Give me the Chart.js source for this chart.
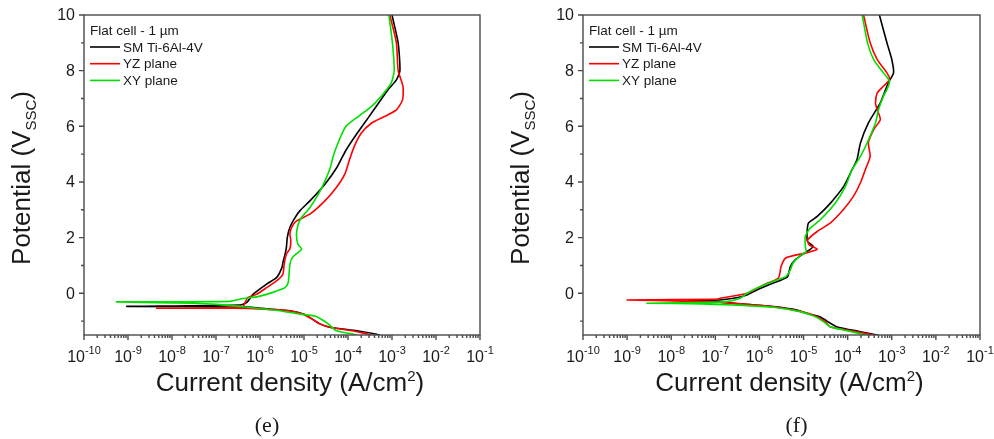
<!DOCTYPE html>
<html>
<head>
<meta charset="utf-8">
<script src="https://cdn.jsdelivr.net/npm/chart.js@4"></script>
<style>
  body { margin: 0; background: #fff; width: 994px; height: 439px; overflow: hidden; position: relative; }
  canvas { position: absolute; top: 0; }
  #chartE { left: 0; }
  #chartF { left: 497px; }
</style>
</head>
<body>
<canvas id="chartE" width="497" height="439"></canvas>
<canvas id="chartF" width="497" height="439"></canvas>
<script>
// axis ticks
const xExponents = [-10, -9, -8, -7, -6, -5, -4, -3, -2, -1];
const yMajorTicks = [0, 2, 4, 6, 8, 10];
const yMinorTicks = [-1, 1, 3, 5, 7, 9];
const seriesNames = ['SM Ti-6Al-4V', 'YZ plane', 'XY plane'];
const legendTitle = 'Flat cell - 1 µm';

// panel (e): potential (V) and log10 of current density (A/cm2)
const eSmE = [-1.51, -1.47, -1.35, -1.22, -1.1, -0.92, -0.75, -0.63, -0.56, -0.5, -0.47, -0.42, -0.33, -0.04, 0.33, 0.57, 0.93, 1.17, 1.4, 1.65, 2.0, 2.37, 2.73, 2.97, 3.33, 3.93, 4.53, 5.13, 5.73, 6.33, 6.71, 7.31, 7.67, 8.0, 9.0, 10];
const eSmLogJ = [-3.27, -3.35, -3.8, -4.41, -4.64, -4.82, -5.0, -5.32, -5.85, -6.3, -9.03, -6.45, -6.3, -6.16, -5.85, -5.62, -5.5, -5.47, -5.43, -5.4, -5.38, -5.32, -5.2, -5.09, -4.86, -4.52, -4.25, -4.05, -3.8, -3.53, -3.36, -3.09, -2.9, -2.82, -2.86, -3.0];

const eYzE = [-1.51, -1.45, -1.35, -1.22, -1.1, -0.92, -0.75, -0.63, -0.57, -0.54, -0.54, -0.5, -0.34, -0.16, -0.04, 0.2, 0.5, 0.68, 1.05, 1.41, 1.6, 1.9, 2.13, 2.37, 2.6, 2.85, 3.33, 3.81, 4.29, 4.78, 5.27, 5.75, 6.11, 6.35, 6.59, 6.95, 7.43, 8.0, 9.0, 10];
const eYzLogJ = [-3.46, -3.6, -3.9, -4.41, -4.64, -4.82, -5.02, -5.35, -5.9, -6.6, -8.35, -6.4, -6.34, -6.28, -6.08, -5.85, -5.58, -5.48, -5.45, -5.4, -5.32, -5.3, -5.32, -5.28, -5.17, -4.86, -4.52, -4.26, -4.07, -3.97, -3.86, -3.7, -3.47, -3.17, -2.9, -2.76, -2.75, -2.86, -2.9, -3.05];

const eXyE = [-1.51, -1.47, -1.35, -1.1, -0.98, -0.82, -0.75, -0.62, -0.5, -0.4, -0.36, -0.31, -0.29, -0.19, -0.13, -0.04, 0.08, 0.2, 0.38, 0.68, 1.05, 1.29, 1.47, 1.59, 1.77, 2.13, 2.49, 2.73, 3.09, 3.57, 4.05, 4.53, 4.9, 5.39, 5.99, 6.35, 6.71, 7.07, 7.55, 8.0, 9.0, 10];
const eXyLogJ = [-3.8, -3.88, -4.26, -4.45, -4.56, -4.75, -5.08, -5.6, -6.3, -6.98, -7.5, -9.26, -6.68, -6.38, -6.08, -5.85, -5.62, -5.43, -5.36, -5.34, -5.32, -5.26, -5.13, -5.05, -5.14, -5.17, -5.13, -5.05, -4.86, -4.67, -4.52, -4.4, -4.34, -4.23, -4.05, -3.77, -3.47, -3.25, -3.02, -2.95, -2.99, -3.07];

// panel (f)
const fSmE = [-1.51, -1.38, -1.2, -1.0, -0.85, -0.71, -0.6, -0.48, -0.38, -0.3, -0.27, -0.24, -0.18, -0.06, 0.12, 0.36, 0.48, 0.6, 0.96, 1.2, 1.38, 1.5, 1.68, 1.86, 2.17, 2.52, 2.76, 3.24, 3.84, 4.44, 4.8, 5.4, 6.12, 6.84, 7.56, 7.92, 8.4, 9.0, 10];
const fSmLogJ = [-3.3, -3.71, -4.25, -4.47, -4.62, -4.96, -5.15, -5.68, -6.44, -7.0, -7.6, -6.9, -6.59, -6.28, -6.06, -5.7, -5.5, -5.36, -5.3, -5.19, -5.04, -4.92, -4.78, -4.91, -4.92, -4.89, -4.69, -4.39, -4.09, -3.9, -3.79, -3.71, -3.53, -3.26, -3.08, -2.96, -3.0, -3.11, -3.28];

const fYzE = [-1.51, -1.32, -1.2, -1.02, -0.84, -0.66, -0.5, -0.38, -0.3, -0.24, -0.22, -0.18, 0.0, 0.3, 0.55, 0.96, 1.26, 1.34, 1.46, 1.58, 1.74, 1.92, 2.22, 2.53, 3.0, 3.48, 3.97, 4.44, 4.92, 5.4, 5.88, 6.24, 6.6, 6.84, 7.2, 7.44, 7.68, 7.92, 8.4, 9.0, 10];
const fYzLogJ = [-3.38, -4.02, -4.4, -4.51, -4.7, -5.04, -5.6, -6.44, -7.35, -9.0, -7.0, -6.89, -6.28, -5.91, -5.57, -5.51, -5.41, -5.26, -4.92, -4.69, -4.87, -4.91, -4.69, -4.39, -4.1, -3.87, -3.71, -3.6, -3.49, -3.53, -3.41, -3.26, -3.33, -3.37, -3.33, -3.19, -3.05, -3.11, -3.33, -3.49, -3.64];

const fXyE = [-1.51, -1.32, -1.2, -1.02, -0.84, -0.66, -0.5, -0.42, -0.38, -0.36, -0.33, -0.3, -0.18, 0.0, 0.24, 0.48, 0.6, 0.84, 1.08, 1.32, 1.5, 1.68, 2.04, 2.34, 2.64, 3.24, 3.84, 4.44, 4.92, 5.4, 6.12, 6.6, 7.08, 7.32, 7.62, 7.92, 8.4, 9.0, 10];
const fXyLogJ = [-3.56, -4.09, -4.4, -4.55, -4.74, -5.08, -5.68, -6.6, -7.3, -8.55, -7.2, -6.74, -6.44, -6.28, -5.98, -5.6, -5.4, -5.3, -5.24, -5.1, -4.94, -4.96, -4.96, -4.85, -4.62, -4.28, -4.05, -3.9, -3.71, -3.56, -3.37, -3.3, -3.19, -3.11, -3.05, -3.19, -3.41, -3.55, -3.67];

const colors = ['#000000', '#ff0000', '#00e000'];
const inkColor = '#1a1a1a';
const frameColor = '#4a4a4a';

function curve(i, logJ, E) {
  return {
    label: seriesNames[i],
    data: E.map((v, k) => ({ x: 10 ** logJ[k], y: v })),
    borderColor: colors[i],
    backgroundColor: colors[i],
    borderWidth: 1.6,
    showLine: true,
    pointRadius: 0,
    tension: 0.2,
    order: 3 - i
  };
}

function drawPow(ctx, cx, baseY, exp) {
  ctx.font = '16px "Liberation Sans", Arial, sans-serif';
  const wb = ctx.measureText('10').width;
  ctx.font = '11px "Liberation Sans", Arial, sans-serif';
  const we = ctx.measureText(exp).width;
  const left = cx - (wb + we) / 2;
  ctx.textAlign = 'left';
  ctx.textBaseline = 'alphabetic';
  ctx.font = '16px "Liberation Sans", Arial, sans-serif';
  ctx.fillText('10', left, baseY);
  ctx.font = '11px "Liberation Sans", Arial, sans-serif';
  ctx.fillText(exp, left + wb, baseY - 8);
}

const panelPlugin = {
  id: 'panel',
  afterDraw(chart, args, opts) {
    const { ctx, chartArea: a, scales: { x, y } } = chart;
    ctx.save();
    ctx.strokeStyle = frameColor;
    ctx.lineWidth = 1.4;
    ctx.strokeRect(a.left, a.top, a.right - a.left, a.bottom - a.top);

    ctx.beginPath();
    yMajorTicks.forEach(v => {
      const py = y.getPixelForValue(v);
      ctx.moveTo(a.left, py); ctx.lineTo(a.left - 5, py);
    });
    yMinorTicks.forEach(v => {
      const py = y.getPixelForValue(v);
      ctx.moveTo(a.left, py); ctx.lineTo(a.left - 3, py);
    });
    xExponents.forEach((n, i) => {
      const px = x.getPixelForValue(10 ** n);
      ctx.moveTo(px, a.bottom); ctx.lineTo(px, a.bottom + 5);
      if (i < xExponents.length - 1) {
        for (let k = 2; k < 10; k++) {
          const mx = x.getPixelForValue(k * 10 ** n);
          ctx.moveTo(mx, a.bottom); ctx.lineTo(mx, a.bottom + 3);
        }
      }
    });
    ctx.stroke();

    ctx.fillStyle = inkColor;
    // y tick labels
    ctx.font = '16px "Liberation Sans", Arial, sans-serif';
    ctx.textAlign = 'right';
    ctx.textBaseline = 'middle';
    yMajorTicks.forEach(v => ctx.fillText(String(v), a.left - 9, y.getPixelForValue(v) + 1));
    // x tick labels
    xExponents.forEach(n => drawPow(ctx, x.getPixelForValue(10 ** n), a.bottom + 27, String(n)));

    // x title
    const xt = 'Current density (A/cm';
    ctx.font = '26px "Liberation Sans", Arial, sans-serif';
    const w1 = ctx.measureText(xt).width;
    ctx.font = '15px "Liberation Sans", Arial, sans-serif';
    const w2 = ctx.measureText('2').width;
    ctx.font = '26px "Liberation Sans", Arial, sans-serif';
    const w3 = ctx.measureText(')').width;
    const sx = (a.left + a.right) / 2 + 8 - (w1 + w2 + w3) / 2;
    ctx.textAlign = 'left';
    ctx.textBaseline = 'alphabetic';
    ctx.fillText(xt, sx, a.bottom + 56);
    ctx.font = '15px "Liberation Sans", Arial, sans-serif';
    ctx.fillText('2', sx + w1, a.bottom + 46);
    ctx.font = '26px "Liberation Sans", Arial, sans-serif';
    ctx.fillText(')', sx + w1 + w2, a.bottom + 56);

    // y title
    ctx.save();
    ctx.translate(a.left - 54, (a.top + a.bottom) / 2 + 3);
    ctx.rotate(-Math.PI / 2);
    const yt = 'Potential (V';
    ctx.font = '26px "Liberation Sans", Arial, sans-serif';
    const v1 = ctx.measureText(yt).width;
    ctx.font = '15px "Liberation Sans", Arial, sans-serif';
    const v2 = ctx.measureText('SSC').width;
    ctx.font = '26px "Liberation Sans", Arial, sans-serif';
    const v3 = ctx.measureText(')').width;
    const sy = -(v1 + v2 + v3) / 2;
    ctx.fillText(yt, sy, 0);
    ctx.font = '15px "Liberation Sans", Arial, sans-serif';
    ctx.fillText('SSC', sy + v1, 6);
    ctx.font = '26px "Liberation Sans", Arial, sans-serif';
    ctx.fillText(')', sy + v1 + v2, 0);
    ctx.restore();

    // legend
    const lx = a.left + 6;
    ctx.font = '13.5px "Liberation Sans", Arial, sans-serif';
    ctx.textBaseline = 'middle';
    ctx.fillText(legendTitle, lx, a.top + 16);
    chart.data.datasets.forEach((ds, i) => {
      const ly = a.top + 32 + i * 16.7;
      ctx.strokeStyle = ds.borderColor;
      ctx.lineWidth = 1.6;
      ctx.beginPath();
      ctx.moveTo(lx, ly); ctx.lineTo(lx + 30, ly);
      ctx.stroke();
      ctx.fillStyle = inkColor;
      ctx.fillText(ds.label, lx + 33, ly + 1);
    });

    // panel tag
    ctx.font = '22px "Liberation Serif", "Times New Roman", serif';
    ctx.textAlign = 'center';
    ctx.textBaseline = 'alphabetic';
    ctx.fillText(opts.tag, (a.left + a.right) / 2 + opts.tagShift, 432);
    ctx.restore();
  }
};

function makeChart(id, sets, tag, tagShift, pad) {
  return new Chart(document.getElementById(id), {
    type: 'scatter',
    data: { datasets: sets },
    options: {
      responsive: false,
      animation: false,
      devicePixelRatio: 1,
      layout: { padding: pad },
      plugins: { legend: { display: false }, tooltip: { enabled: false }, panel: { tag, tagShift } },
      scales: {
        x: { type: 'logarithmic', min: 1e-10, max: 1e-1, display: false },
        y: { type: 'linear', min: -1.5, max: 10, display: false }
      }
    },
    plugins: [panelPlugin]
  });
}

makeChart('chartE', [curve(0, eSmLogJ, eSmE), curve(1, eYzLogJ, eYzE), curve(2, eXyLogJ, eXyE)],
  '(e)', -15, { left: 84, right: 17, top: 15, bottom: 104 });
makeChart('chartF', [curve(0, fSmLogJ, fSmE), curve(1, fYzLogJ, fYzE), curve(2, fXyLogJ, fXyE)],
  '(f)', 15, { left: 86, right: 14, top: 15, bottom: 104 });
</script>
</body>
</html>
